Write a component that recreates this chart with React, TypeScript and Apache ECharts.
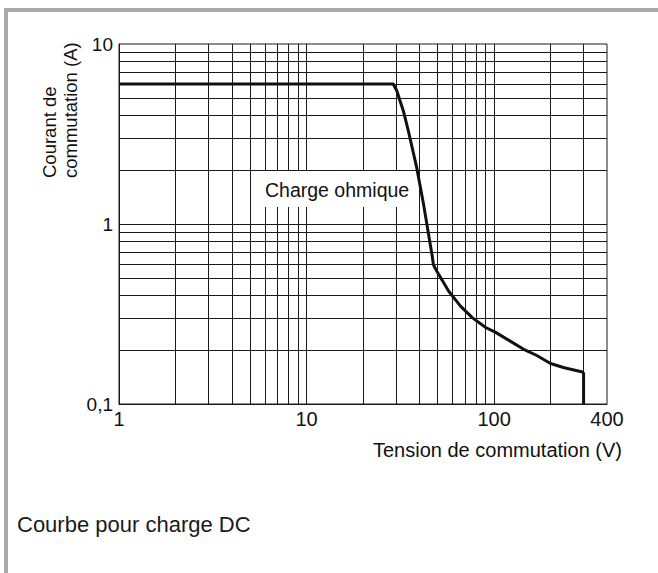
import React, { useEffect, useRef } from "react";
import * as echarts from "echarts";

// Curve: switching current (A) vs switching voltage (V), resistive load
const voltage = [1, 29, 30.3, 31.5, 32.8, 34.9, 38.7, 42.1, 45.7, 46.7, 47.5, 49.6, 57.3, 66.2, 76.5, 90.2, 102, 120.7, 143, 169, 200, 236.8, 300];
const current = [6, 6, 5.5, 4.84, 4.26, 3.29, 2.05, 1.28, 0.767, 0.673, 0.593, 0.545, 0.423, 0.35, 0.302, 0.266, 0.25, 0.225, 0.202, 0.186, 0.168, 0.159, 0.15];
const dropVoltage = [300, 300];
const dropCurrent = [0.15, 0.1];

const xGridValues = [2, 3, 4, 5, 6, 7, 8, 9, 10, 20, 30, 40, 50, 60, 70, 80, 90, 100, 200, 300];
const yGridValues = [0.2, 0.3, 0.4, 0.5, 0.6, 0.7, 0.8, 0.9, 1, 2, 3, 4, 5, 6, 7, 8, 9];
const xTickValues = [1, 10, 100, 400];
const yTickValues = [0.1, 1, 10];

const yTitle = "Courant de\ncommutation (A)";
const xTitle = "Tension de commutation (V)";
const curveLabel = "Charge ohmique";
const caption = "Courbe pour charge DC";

const FONT = "'Liberation Sans', Arial, sans-serif";

export default function App() {
  const ref = useRef<HTMLDivElement>(null);
  useEffect(() => {
    if (!ref.current) return;
    const chart = echarts.init(ref.current, undefined, { renderer: "svg" });
    const fmtY = (v: number) => (Math.abs(v - 0.1) < 1e-9 ? "0,1" : String(Math.round(v)));
    chart.setOption({
      animation: false,
      backgroundColor: "#fff",
      grid: {
        left: 119,
        top: 44,
        right: 51,
        bottom: 169,
        show: true,
        borderColor: "#1a1a1a",
        borderWidth: 1,
        backgroundColor: "transparent",
      },
      xAxis: {
        type: "log",
        logBase: 10,
        min: 1,
        max: 400,
        axisLine: { show: true, lineStyle: { color: "#1a1a1a", width: 1 } },
        axisTick: { show: false },
        splitLine: { show: false },
        minorSplitLine: { show: false },
        axisLabel: {
          customValues: xTickValues,
          color: "#111",
          fontFamily: FONT,
          fontSize: 20,
          margin: 5,
          formatter: (v: number) => String(Math.round(v)),
        },
      },
      yAxis: {
        type: "log",
        logBase: 10,
        min: 0.1,
        max: 10,
        axisLine: { show: true, lineStyle: { color: "#1a1a1a", width: 1 } },
        axisTick: { show: false },
        splitLine: { show: false },
        minorSplitLine: { show: false },
        axisLabel: {
          customValues: yTickValues,
          color: "#111",
          fontFamily: FONT,
          fontSize: 19,
          margin: 6,
          formatter: fmtY,
        },
      },
      series: [
        {
          type: "line",
          z: 1,
          data: [],
          silent: true,
          markLine: {
            silent: true,
            symbol: ["none", "none"],
            label: { show: false },
            lineStyle: { color: "#1a1a1a", width: 1, type: "solid" },
            emphasis: { disabled: true },
            data: [
              ...xGridValues.map((v) => ({ xAxis: v })),
              ...yGridValues.map((v) => ({ yAxis: v })),
            ],
          },
        },
        {
          type: "line",
          z: 5,
          showSymbol: false,
          smooth: false,
          lineStyle: { color: "#111", width: 3, join: "round" },
          data: voltage.map((v, i) => [v, current[i]]),
        },
        {
          type: "line",
          z: 5,
          showSymbol: false,
          lineStyle: { color: "#111", width: 3 },
          data: dropVoltage.map((v, i) => [v, dropCurrent[i]]),
        },
      ],
      graphic: [
        { type: "rect", z: 50, shape: { x: 4, y: 8, width: 654, height: 4 }, style: { fill: "#a8aaad" } },
        { type: "rect", z: 50, shape: { x: 4, y: 8, width: 4, height: 565 }, style: { fill: "#a8aaad" } },
        { type: "rect", z: 50, shape: { x: 256, y: 171, width: 156, height: 36 }, style: { fill: "#fff" } },
        {
          type: "text",
          z: 60,
          x: 265,
          y: 190,
          style: { text: curveLabel, font: `19.5px ${FONT}`, fill: "#111", verticalAlign: "middle", align: "left" },
        },
        {
          type: "text",
          z: 60,
          x: 39,
          y: 178,
          rotation: Math.PI / 2,
          style: {
            text: yTitle,
            font: `18.5px ${FONT}`,
            lineHeight: 21,
            fill: "#111",
            align: "left",
            verticalAlign: "top",
          },
        },
        {
          type: "text",
          z: 60,
          x: 622,
          y: 450,
          style: { text: xTitle, font: `20px ${FONT}`, fill: "#111", align: "right", verticalAlign: "middle" },
        },
        {
          type: "text",
          z: 60,
          x: 17,
          y: 524,
          style: { text: caption, font: `22px ${FONT}`, fill: "#1a1a1a", align: "left", verticalAlign: "middle" },
        },
      ],
    });
    return () => chart.dispose();
  }, []);
  return (
    <div
      ref={ref}
      style={{ position: "fixed", left: 0, top: 0, width: 658, height: 573 }}
    />
  );
}
